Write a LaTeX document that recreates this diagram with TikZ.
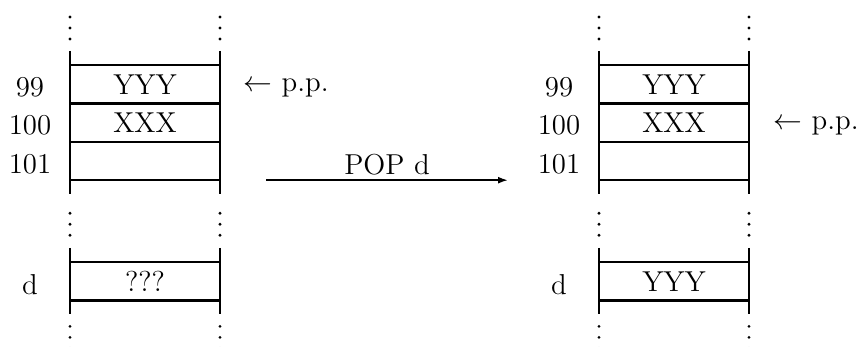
\documentclass[tikz,border=0pt]{standalone}
\usepackage{tikz}
\usetikzlibrary{positioning, arrows.meta, calc}

\begin{document}
\begin{tikzpicture}[
  x=1pt, y=1pt,
  cell/.style={draw, line width=1.2pt, minimum width=75pt, minimum height=19.2pt,
               inner sep=0pt, outer sep=0pt, font=\Large},
  addr/.style={minimum width=40pt, inner sep=0pt, outer sep=0pt, yshift=-1.5pt,
               font=\Large},
  ptr/.style={inner sep=0pt, font=\Large},
  rail/.style={line width=0.9pt},
  arr/.style={-{Latex[length=5pt, width=3.5pt]}, line width=0.9pt},
  op/.style={font=\Large, inner sep=2pt},
]

\useasboundingbox (0,0) rectangle (429.5,-173.5);

% Memory before POP
\node[cell] (l99) at (72.5,-42.1) {YYY};
\node[cell, below=0pt of l99] (l100) {XXX};
\node[cell, below=0pt of l100] (l101) {};
\node[cell] (ld) at (72.5,-140.6) {???};

% Memory after POP
\node[cell] (r99) at (337,-42.1) {YYY};
\node[cell, below=0pt of r99] (r100) {XXX};
\node[cell, below=0pt of r100] (r101) {};
\node[cell] (rd) at (337,-140.6) {YYY};

% Addresses
\node[addr, left=0pt of l99] (la99) {99};
\node[addr, left=0pt of l100] (la100) {100};
\node[addr, left=0pt of l101] (la101) {101};
\node[addr, left=0pt of ld] (lad) {d};
\node[addr, left=0pt of r99] (ra99) {99};
\node[addr, left=0pt of r100] (ra100) {100};
\node[addr, left=0pt of r101] (ra101) {101};
\node[addr, left=0pt of rd] (rad) {d};

% Stack pointer
\node[ptr, right=11.5pt of l99.east, anchor=base west, yshift=-3.5pt] (lpp)
  {$\leftarrow$ p.p.};
\node[ptr, right=12pt of r100.east, anchor=base west, yshift=-3.5pt] (rpp)
  {$\leftarrow$ p.p.};

% Operation
\coordinate[right=23pt of l101.south east] (popfrom);
\coordinate[left=45.5pt of r101.south west] (popto);
\draw[arr] (popfrom) -- (popto) node[op, midway, above] {POP d};

% Rails and dots
\foreach \s in {l, r} {
  \foreach \side in {west, east} {
    \draw[rail] ($(\s99.north \side)+(0,7)$) -- ($(\s101.south \side)+(0,-7)$);
    \draw[rail] ($(\s d.north \side)+(0,7)$) -- ($(\s d.south \side)+(0,-7)$);
    \foreach \k in {-5.5, 0, 5.5} {
      \fill ($(\s99.north \side)+(0,18.5+\k)$) circle (0.8pt);
      \fill ($(\s101.south \side)+(0,-22+\k)$) circle (0.8pt);
      \fill ($(\s d.south \side)+(0,-18.5+\k)$) circle (0.8pt);
    }
  }
}

\end{tikzpicture}
\end{document}
